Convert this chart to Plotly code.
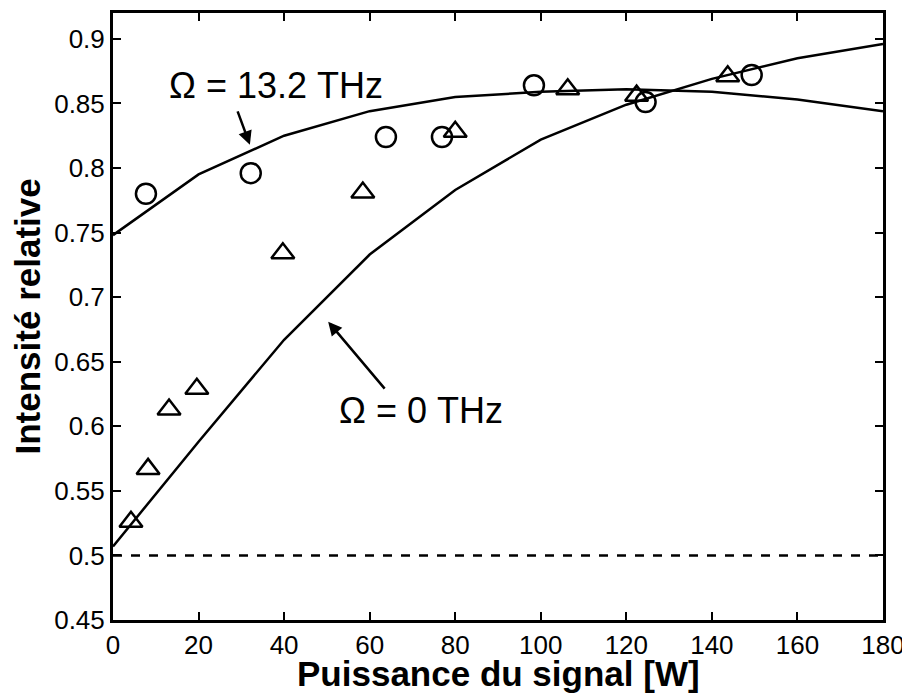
import plotly.graph_objects as go

# Model curves (lines)
p_curve = [0, 20, 40, 60, 80, 100, 120, 140, 160, 180]
i_omega_13 = [0.748, 0.795, 0.825, 0.844, 0.855, 0.859, 0.861, 0.859, 0.853, 0.844]
i_omega_0 = [0.507, 0.588, 0.667, 0.733, 0.783, 0.822, 0.849, 0.869, 0.885, 0.896]

# Measured points, Omega = 13.2 THz (circles)
p_circ = [7.7, 32.2, 63.8, 76.9, 98.4, 124.5, 149.3]
i_circ = [0.780, 0.796, 0.824, 0.824, 0.864, 0.851, 0.872]

# Measured points, Omega = 0 THz (triangles)
p_tri = [4.2, 8.2, 13.1, 19.6, 39.7, 58.4, 80.0, 106.3, 122.4, 143.7]
i_tri = [0.526, 0.567, 0.613, 0.629, 0.734, 0.781, 0.828, 0.861, 0.856, 0.871]

# Reference level
ref_x = [0, 180]
ref_y = [0.5, 0.5]

x_ticks = list(range(0, 181, 20))
y_ticks = [0.45, 0.5, 0.55, 0.6, 0.65, 0.7, 0.75, 0.8, 0.85, 0.9]
y_labels = ["0.45", "0.5", "0.55", "0.6", "0.65", "0.7", "0.75", "0.8", "0.85", "0.9"]

font_name = "Liberation Sans, Arial, sans-serif"

fig = go.Figure()

fig.add_trace(go.Scatter(x=ref_x, y=ref_y, mode="lines",
                         line=dict(color="black", width=2.5, dash="dash")))
fig.add_trace(go.Scatter(x=p_curve, y=i_omega_13, mode="lines",
                         line=dict(color="black", width=2.5)))
fig.add_trace(go.Scatter(x=p_curve, y=i_omega_0, mode="lines",
                         line=dict(color="black", width=2.5)))
fig.add_trace(go.Scatter(x=p_circ, y=i_circ, mode="markers",
                         marker=dict(symbol="circle-open", size=20, color="black",
                                     line=dict(width=2.5))))
fig.add_trace(go.Scatter(x=p_tri, y=i_tri, mode="markers",
                         marker=dict(symbol="triangle-up-open", size=20, color="black",
                                     line=dict(width=2.5))))

# Labels with arrows
fig.add_annotation(x=38.1, y=0.864, text="Ω = 13.2 THz", showarrow=False,
                   font=dict(size=36, color="black", family=font_name))
fig.add_annotation(x=32.0, y=0.818, ax=29.0, ay=0.845, axref="x", ayref="y",
                   text="", showarrow=True, arrowhead=2, arrowsize=1.1,
                   arrowwidth=2.5, arrowcolor="black")
fig.add_annotation(x=72.0, y=0.6125, text="Ω = 0 THz", showarrow=False,
                   font=dict(size=36, color="black", family=font_name))
fig.add_annotation(x=50.3, y=0.681, ax=63.8, ay=0.628, axref="x", ayref="y",
                   text="", showarrow=True, arrowhead=2, arrowsize=1.1,
                   arrowwidth=2.5, arrowcolor="black")

# axis titles placed as annotations so the plot area stays fixed
fig.add_annotation(x=0.5, y=0, xref="paper", yref="paper", yanchor="middle",
                   yshift=-53, text="<b>Puissance du signal [W]</b>", showarrow=False,
                   font=dict(size=35, color="black", family=font_name))
fig.add_annotation(x=0, y=0.5, xref="paper", yref="paper", xanchor="center",
                   xshift=-86, textangle=-90, text="<b>Intensité relative</b>",
                   showarrow=False, font=dict(size=35, color="black", family=font_name))

# page body has an 8px margin, so the figure starts at (8, 8) in the window
fig.update_layout(
    width=902, height=685,
    paper_bgcolor="white", plot_bgcolor="white",
    showlegend=False,
    margin=dict(l=105, r=27, t=5, b=73),
    font=dict(family=font_name, color="black", size=26),
    xaxis=dict(range=[0, 180], tickvals=x_ticks, ticks="inside", ticklen=8,
               tickwidth=2, tickcolor="black", showline=True, linewidth=3,
               linecolor="black", mirror="allticks", showgrid=False, zeroline=False,
               tickfont=dict(size=26), automargin=False),
    yaxis=dict(range=[0.45, 0.92], tickvals=y_ticks, ticktext=y_labels,
               ticks="inside", ticklen=8, tickwidth=2, tickcolor="black",
               showline=True, linewidth=3, linecolor="black", mirror="allticks",
               showgrid=False, zeroline=False, tickfont=dict(size=26),
               automargin=False),
)

fig.write_html("out.html")
